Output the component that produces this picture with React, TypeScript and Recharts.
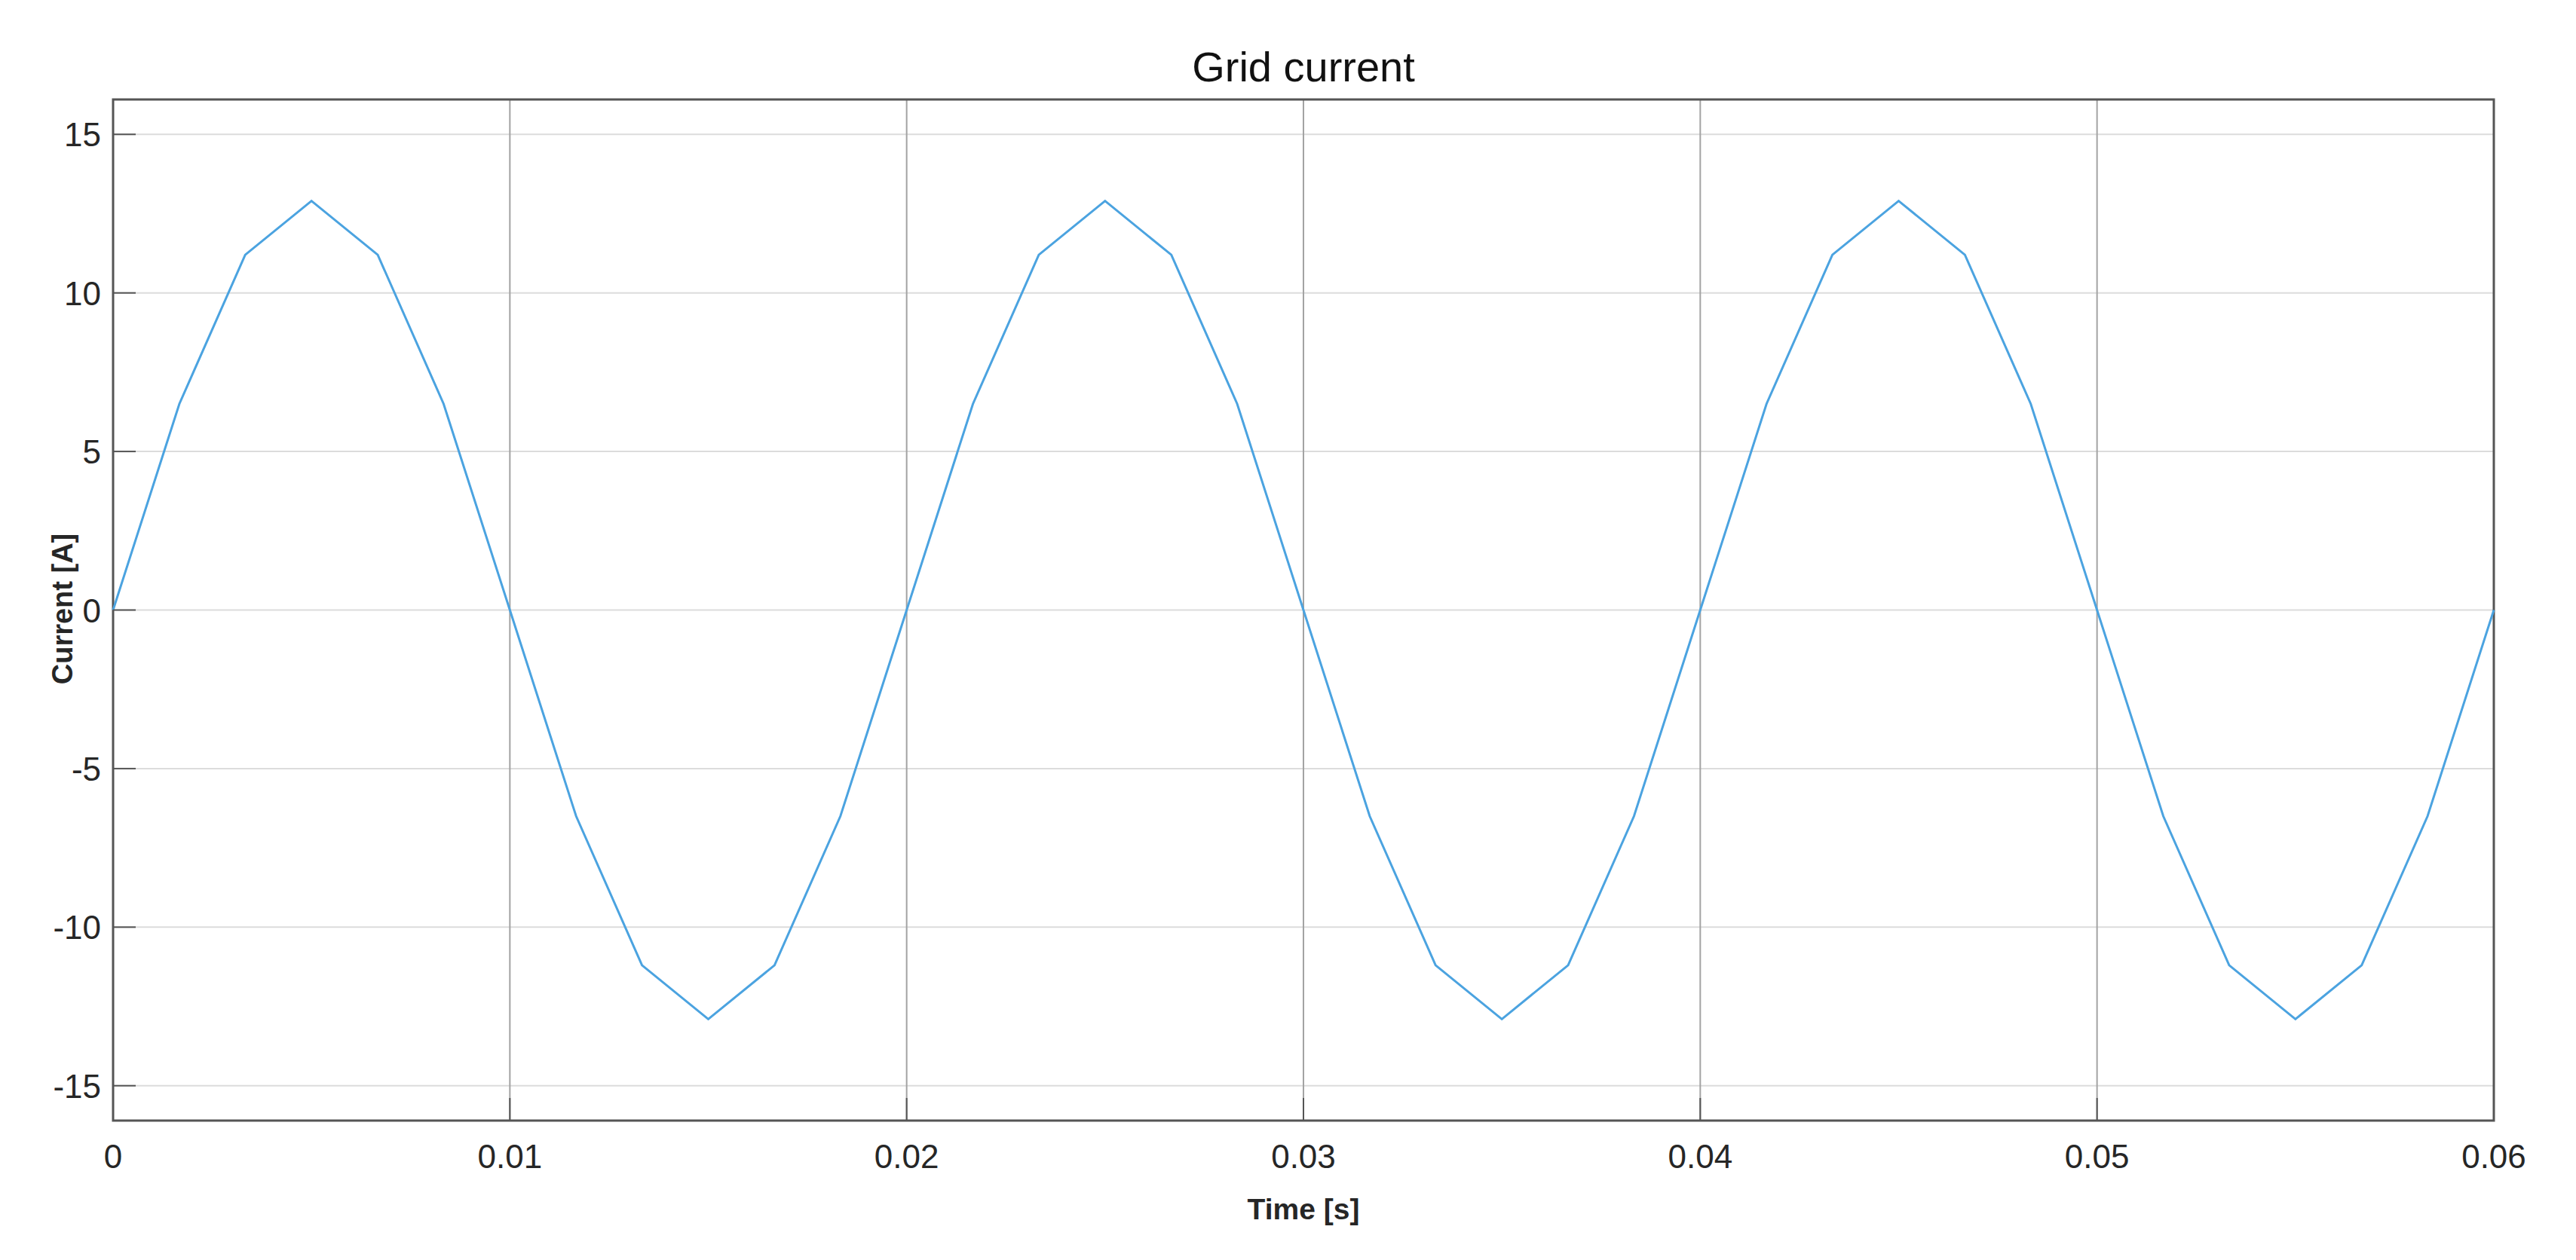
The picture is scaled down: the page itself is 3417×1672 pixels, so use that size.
import React from 'react';
import { LineChart, Line, XAxis, YAxis, CartesianGrid, ReferenceArea } from 'recharts';

const times = [
  0, 0.00167, 0.00333, 0.005, 0.00667, 0.00833,
  0.01, 0.01167, 0.01333, 0.015, 0.01667, 0.01833,
  0.02, 0.02167, 0.02333, 0.025, 0.02667, 0.02833,
  0.03, 0.03167, 0.03333, 0.035, 0.03667, 0.03833,
  0.04, 0.04167, 0.04333, 0.045, 0.04667, 0.04833,
  0.05, 0.05167, 0.05333, 0.055, 0.05667, 0.05833,
  0.06,
];
const current = [
  0, 6.5, 11.2, 12.9, 11.2, 6.5,
  0, -6.5, -11.2, -12.9, -11.2, -6.5,
  0, 6.5, 11.2, 12.9, 11.2, 6.5,
  0, -6.5, -11.2, -12.9, -11.2, -6.5,
  0, 6.5, 11.2, 12.9, 11.2, 6.5,
  0, -6.5, -11.2, -12.9, -11.2, -6.5,
  0,
];
const xTicks = [0, 0.01, 0.02, 0.03, 0.04, 0.05, 0.06];
const yTicks = [-15, -10, -5, 0, 5, 10, 15];
const yDomain = [-16.1, 16.1];

const data = times.map((t, i) => ({ t, i: current[i] }));

const FONT = '"Liberation Sans", Arial, sans-serif';
const AXIS = '#555555';
const TEXT = '#262626';
const TICK_LEN = 30;

const W = 3417;
const H = 1672;

const BottomTick = (props: any) => {
  const { x, y, payload } = props;
  return (
    <g>
      <line x1={x} y1={y} x2={x} y2={y - TICK_LEN} stroke={AXIS} strokeWidth={2} />
      <text x={x} y={y + 63} textAnchor="middle" fontSize={44} fontFamily={FONT} fill={TEXT}>
        {String(payload.value)}
      </text>
    </g>
  );
};

const LeftTick = (props: any) => {
  const { x, y, payload } = props;
  return (
    <g>
      <line x1={x} y1={y} x2={x + TICK_LEN} y2={y} stroke={AXIS} strokeWidth={2} />
      <text x={x - 16} y={y + 16} textAnchor="end" fontSize={44} fontFamily={FONT} fill={TEXT}>
        {String(payload.value)}
      </text>
    </g>
  );
};

const RightTick = (props: any) => {
  const { x, y } = props;
  return <line x1={x - TICK_LEN} y1={y} x2={x} y2={y} stroke={AXIS} strokeWidth={2} />;
};

export default function App() {
  return (
    <div style={{ position: 'absolute', left: 0, top: 0, width: W, height: H, background: '#fff' }}>
      <LineChart width={W} height={H} data={data} margin={{ top: 132, right: 0, left: 0, bottom: 0 }}>
        <CartesianGrid vertical={false} stroke="#dcdcdc" strokeWidth={2} />
        <CartesianGrid horizontal={false} stroke="#a3a3a3" strokeWidth={2} />
        <XAxis
          dataKey="t"
          type="number"
          domain={[0, 0.06]}
          ticks={xTicks}
          height={185}
          tickSize={0}
          tickMargin={0}
          axisLine={false}
          tickLine={false}
          tick={<BottomTick />}
        />
        <YAxis
          type="number"
          domain={yDomain}
          ticks={yTicks}
          width={150}
          tickSize={0}
          tickMargin={0}
          axisLine={false}
          tickLine={false}
          tick={<LeftTick />}
        />
        <YAxis
          yAxisId="r"
          orientation="right"
          type="number"
          domain={yDomain}
          ticks={yTicks}
          width={109}
          tickSize={0}
          tickMargin={0}
          axisLine={false}
          tickLine={false}
          tick={<RightTick />}
        />
        <Line
          type="linear"
          dataKey="i"
          stroke="#4ba3e0"
          strokeWidth={3}
          dot={false}
          isAnimationActive={false}
        />
        <ReferenceArea
          x1={0}
          x2={0.06}
          y1={yDomain[0]}
          y2={yDomain[1]}
          fill="none"
          fillOpacity={0}
          stroke={AXIS}
          strokeWidth={3}
        />
      </LineChart>
      <svg
        width={W}
        height={H}
        style={{ position: 'absolute', left: 0, top: 0, pointerEvents: 'none' }}
      >
        <text x={1729} y={108} textAnchor="middle" fontSize={56} fontFamily={FONT} fill="#111">
          Grid current
        </text>
        <text x={1729} y={1618} textAnchor="middle" fontSize={39} fontWeight="bold" fontFamily={FONT} fill={TEXT}>
          Time [s]
        </text>
        <text
          x={96}
          y={808}
          textAnchor="middle"
          fontSize={38}
          fontWeight="bold"
          fontFamily={FONT}
          fill={TEXT}
          transform="rotate(-90, 96, 808)"
        >
          Current [A]
        </text>
      </svg>
    </div>
  );
}
